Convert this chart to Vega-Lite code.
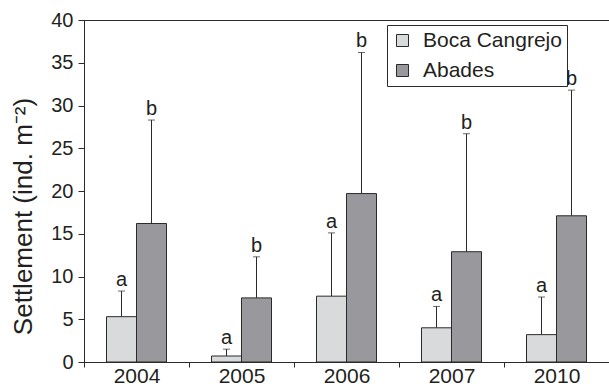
{
  "$schema": "https://vega.github.io/schema/vega-lite/v6.json",
  "autosize": "none",
  "padding": {"left": 84, "top": 20, "right": 0, "bottom": 24},
  "width": 525,
  "height": 342,
  "background": "white",
  "data": {
    "values": [
      {"year": "2004", "site": "Boca Cangrejo", "mean": 5.3, "upper": 8.3, "letter": "a"},
      {"year": "2004", "site": "Abades", "mean": 16.2, "upper": 28.3, "letter": "b"},
      {"year": "2005", "site": "Boca Cangrejo", "mean": 0.7, "upper": 1.5, "letter": "a"},
      {"year": "2005", "site": "Abades", "mean": 7.5, "upper": 12.3, "letter": "b"},
      {"year": "2006", "site": "Boca Cangrejo", "mean": 7.7, "upper": 15.1, "letter": "a"},
      {"year": "2006", "site": "Abades", "mean": 19.7, "upper": 36.2, "letter": "b"},
      {"year": "2007", "site": "Boca Cangrejo", "mean": 4.0, "upper": 6.5, "letter": "a"},
      {"year": "2007", "site": "Abades", "mean": 12.9, "upper": 26.7, "letter": "b"},
      {"year": "2010", "site": "Boca Cangrejo", "mean": 3.2, "upper": 7.6, "letter": "a"},
      {"year": "2010", "site": "Abades", "mean": 17.1, "upper": 31.8, "letter": "b"}
    ]
  },
  "encoding": {
    "x": {
      "field": "year",
      "type": "nominal",
      "scale": {"paddingInner": 0, "paddingOuter": 0},
      "axis": {
        "title": null,
        "labelAngle": 0,
        "tickBand": "extent",
        "tickSize": 5,
        "labelPadding": -2,
        "labelFontSize": 21
      }
    },
    "xOffset": {
      "field": "site",
      "type": "nominal",
      "sort": ["Boca Cangrejo", "Abades"],
      "scale": {"paddingInner": 0, "paddingOuter": 0.75}
    }
  },
  "layer": [
    {
      "mark": {"type": "rule", "color": "#2a2a2a", "strokeWidth": 1},
      "encoding": {
        "y": {"field": "mean", "type": "quantitative"},
        "y2": {"field": "upper"}
      }
    },
    {
      "mark": {"type": "tick", "color": "#2a2a2a", "size": 7, "thickness": 1},
      "encoding": {
        "y": {"field": "upper", "type": "quantitative"}
      }
    },
    {
      "mark": {"type": "bar", "stroke": "#2a2a2a", "strokeWidth": 1},
      "encoding": {
        "y": {
          "field": "mean",
          "type": "quantitative",
          "scale": {"domain": [0, 40], "nice": false},
          "axis": {
            "title": "Settlement (ind. m⁻²)",
            "values": [0, 5, 10, 15, 20, 25, 30, 35, 40],
            "grid": false,
            "tickSize": 6,
            "labelPadding": 5,
            "labelFontSize": 20,
            "titleFontSize": 26,
            "titleFontWeight": "normal",
            "titleX": -48,
            "titleY": 196
          }
        },
        "color": {
          "field": "site",
          "type": "nominal",
          "sort": ["Boca Cangrejo", "Abades"],
          "scale": {"domain": ["Boca Cangrejo", "Abades"], "range": ["#d9dadc", "#99989d"]},
          "legend": {
            "title": null,
            "orient": "none",
            "legendX": 303,
            "legendY": 5,
            "direction": "vertical",
            "symbolType": "square",
            "symbolSize": 144,
            "symbolStrokeColor": "#2a2a2a",
            "symbolStrokeWidth": 1,
            "symbolOpacity": 1,
            "labelFontSize": 21,
            "labelOffset": 10,
            "rowPadding": 8,
            "padding": 5,
            "strokeColor": "#2a2a2a",
            "fillColor": "white"
          }
        }
      }
    },
    {
      "mark": {"type": "text", "baseline": "alphabetic", "dy": -5, "fontSize": 20, "color": "#231f20"},
      "encoding": {
        "y": {"field": "upper", "type": "quantitative"},
        "text": {"field": "letter"}
      }
    }
  ],
  "config": {
    "font": "Liberation Sans",
    "view": {"stroke": "#2a2a2a", "strokeWidth": 1},
    "axis": {
      "domainColor": "#2a2a2a",
      "tickColor": "#2a2a2a",
      "labelColor": "#231f20",
      "titleColor": "#231f20",
      "labelFont": "Liberation Sans",
      "titleFont": "Liberation Sans"
    },
    "legend": {"labelFont": "Liberation Sans", "labelColor": "#231f20"}
  }
}
